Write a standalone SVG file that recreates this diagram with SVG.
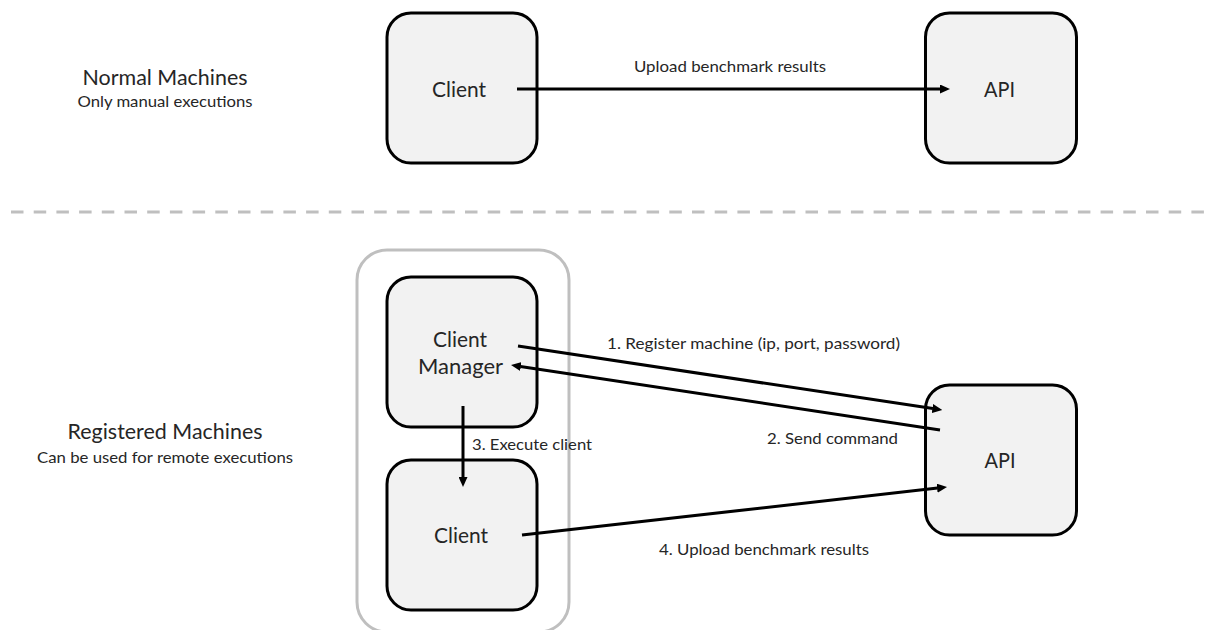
<svg xmlns="http://www.w3.org/2000/svg" width="1211" height="630" viewBox="0 0 1211 630">
  <defs>
    <marker id="arrow" viewBox="0 0 10 9" refX="0.5" refY="4.5" markerWidth="10" markerHeight="9" markerUnits="userSpaceOnUse" orient="auto">
      <path d="M0,0 L10,4.5 L0,9 z" fill="#000"/>
    </marker>
    <style>
      .node { fill: #f2f2f2; stroke: #000; stroke-width: 3; }
      .group { fill: none; stroke: #bfbfbf; stroke-width: 3; }
      .conn { stroke: #000; stroke-width: 3; fill: none; marker-end: url(#arrow); }
      .ntext { font-family: "Lato", "Liberation Sans", sans-serif; font-size: 20.6px; fill: #262626; text-anchor: middle; }
      .label { font-family: "Lato", "Liberation Sans", sans-serif; font-size: 16.2px; fill: #262626; }
      .title { font-family: "Lato", "Liberation Sans", sans-serif; font-size: 20.6px; fill: #262626; text-anchor: middle; }
      .sub { font-family: "Lato", "Liberation Sans", sans-serif; font-size: 16.2px; fill: #262626; text-anchor: middle; }
    </style>
  </defs>
  <rect width="1211" height="630" fill="#fff"/>

  <g id="section-labels">
    <text class="title" x="165" y="85" textLength="165" lengthAdjust="spacingAndGlyphs">Normal Machines</text>
    <text class="sub" x="165" y="107" textLength="175" lengthAdjust="spacingAndGlyphs">Only manual executions</text>
    <text class="title" x="165" y="439" textLength="195" lengthAdjust="spacingAndGlyphs">Registered Machines</text>
    <text class="sub" x="165" y="463" textLength="256" lengthAdjust="spacingAndGlyphs">Can be used for remote executions</text>
  </g>

  <g id="separator">
    <line x1="11" y1="212" x2="1211" y2="212" stroke="#bfbfbf" stroke-width="3" stroke-dasharray="12.5 10.2"/>
  </g>

  <g id="registered-group">
    <rect class="group" x="357" y="250" width="212" height="382" rx="30" ry="30"/>
  </g>

  <g id="client-top">
    <rect class="node" x="387" y="13" width="150" height="150" rx="24" ry="24"/>
    <text class="ntext" x="459" y="97" textLength="54" lengthAdjust="spacingAndGlyphs">Client</text>
  </g>

  <g id="api-top">
    <rect class="node" x="925.5" y="13" width="151" height="150" rx="24" ry="24"/>
    <text class="ntext" x="999.5" y="97" textLength="31" lengthAdjust="spacingAndGlyphs">API</text>
  </g>

  <g id="client-manager">
    <rect class="node" x="387" y="277" width="150" height="150" rx="24" ry="24"/>
    <text class="ntext" x="460" y="347" textLength="54" lengthAdjust="spacingAndGlyphs">Client</text>
    <text class="ntext" x="460.5" y="374" textLength="85" lengthAdjust="spacingAndGlyphs">Manager</text>
  </g>

  <g id="client-bottom">
    <rect class="node" x="387" y="460" width="150" height="150" rx="24" ry="24"/>
    <text class="ntext" x="461" y="543" textLength="54" lengthAdjust="spacingAndGlyphs">Client</text>
  </g>

  <g id="api-bottom">
    <rect class="node" x="925.5" y="385" width="151" height="150" rx="24" ry="24"/>
    <text class="ntext" x="1000" y="468" textLength="31" lengthAdjust="spacingAndGlyphs">API</text>
  </g>

  <g id="connectors">
    <line class="conn" x1="517" y1="89" x2="940.5" y2="89"/>
    <line class="conn" x1="518" y1="346" x2="932.9" y2="408.6"/>
    <line class="conn" x1="940" y1="430" x2="520.4" y2="366.4"/>
    <line class="conn" x1="463" y1="406" x2="463" y2="477.5"/>
    <line class="conn" x1="522" y1="535" x2="937.6" y2="488.1"/>
  </g>

  <g id="connector-labels">
    <text class="label" x="634" y="72" textLength="192" lengthAdjust="spacingAndGlyphs">Upload benchmark results</text>
    <text class="label" x="607" y="349" textLength="293" lengthAdjust="spacingAndGlyphs">1. Register machine (ip, port, password)</text>
    <text class="label" x="767" y="444" textLength="131" lengthAdjust="spacingAndGlyphs">2. Send command</text>
    <text class="label" x="472" y="450" textLength="120" lengthAdjust="spacingAndGlyphs">3. Execute client</text>
    <text class="label" x="659" y="555" textLength="210" lengthAdjust="spacingAndGlyphs">4. Upload benchmark results</text>
  </g>
</svg>
